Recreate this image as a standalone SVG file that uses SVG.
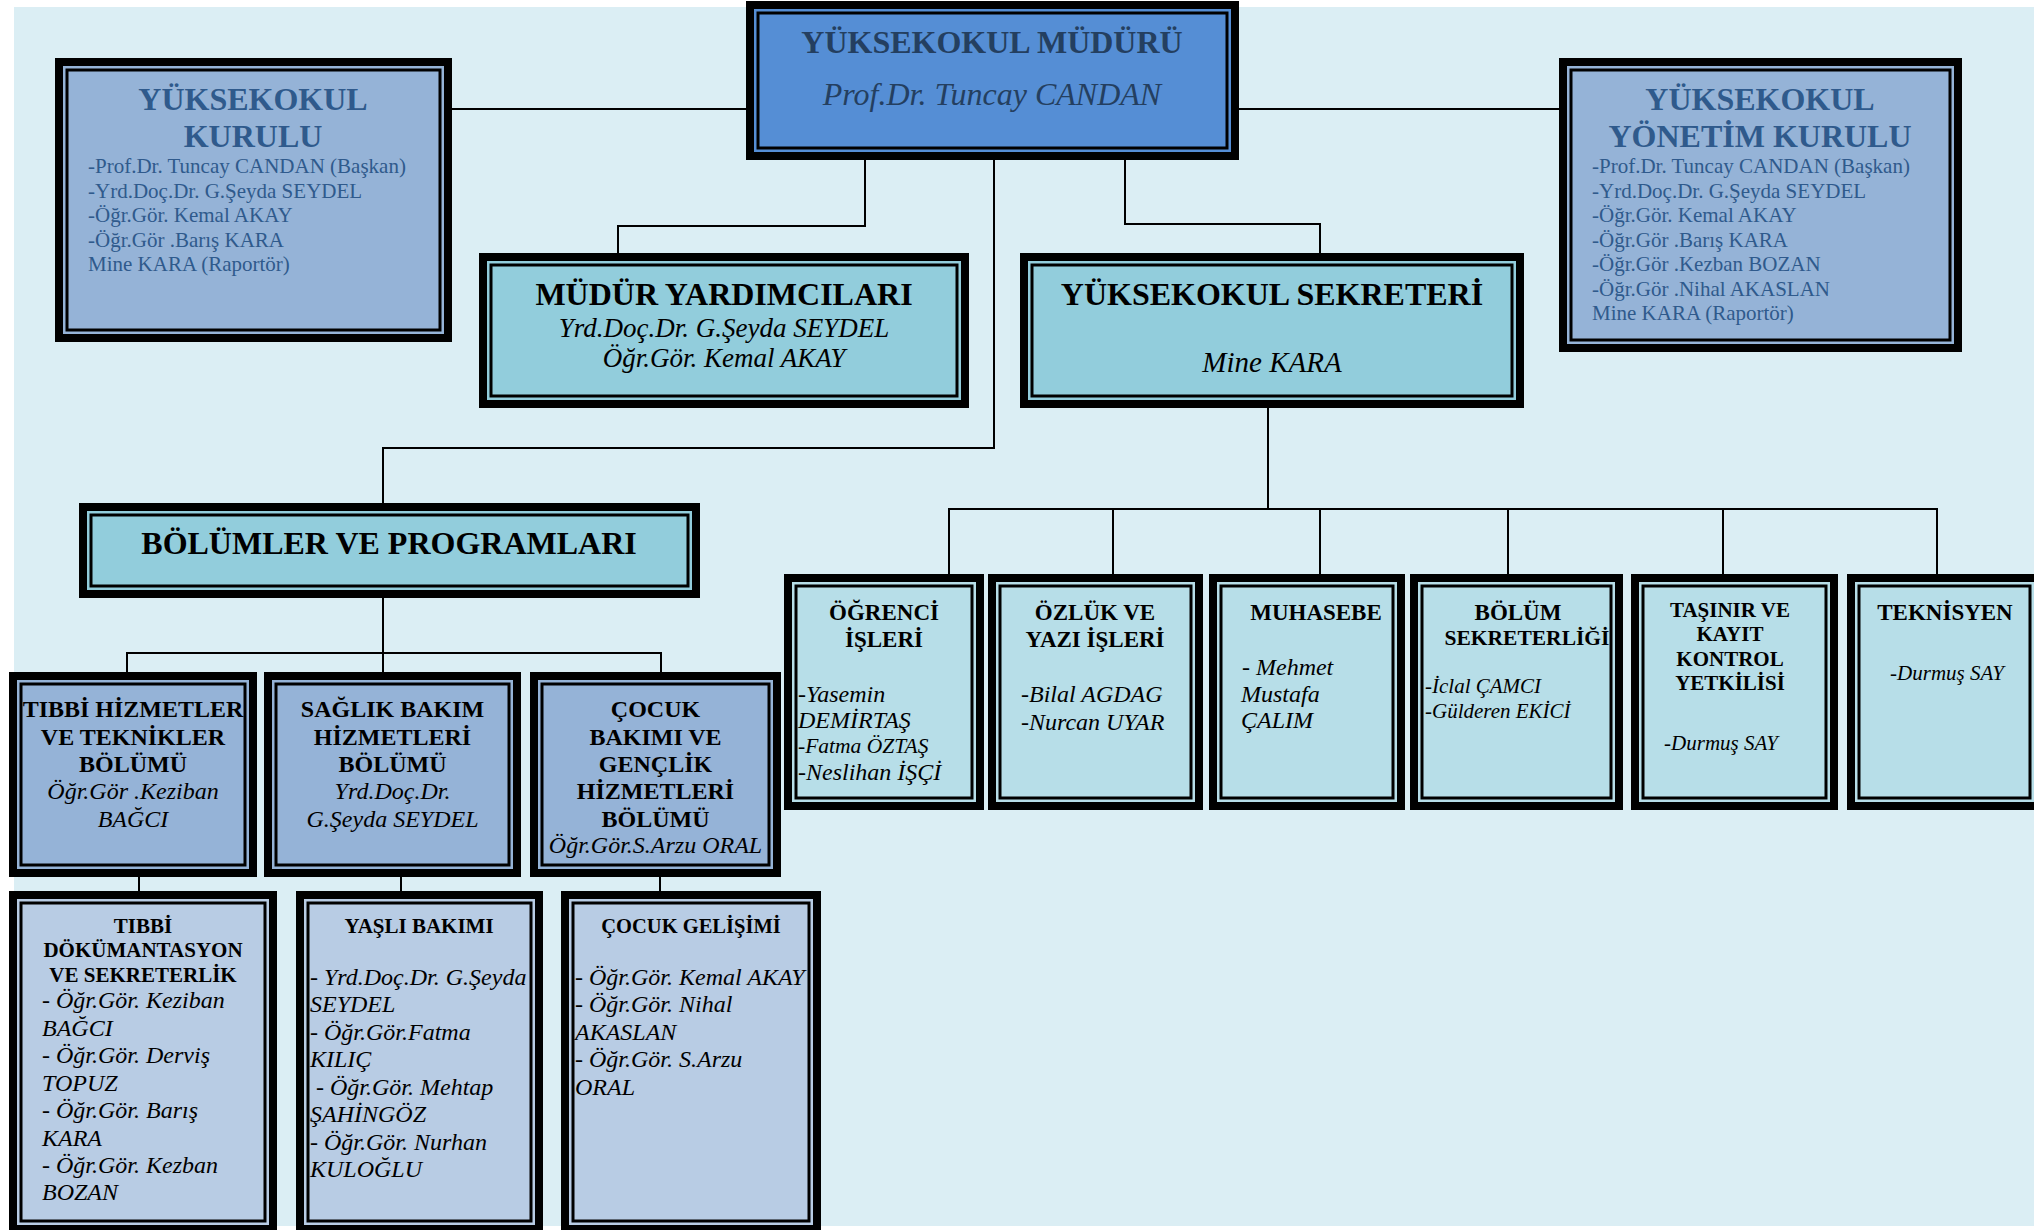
<svg xmlns="http://www.w3.org/2000/svg" width="2034" height="1230" viewBox="0 0 2034 1230">
<style>
text{font-family:"Liberation Serif","Times New Roman",serif}
.o{fill:#000}
.ln{fill:none;stroke:#000;stroke-width:3}
.c{stroke:#000;stroke-width:2;fill:none}
.b{font-weight:bold}
.i{font-style:italic}
.m{text-anchor:middle}
.k{fill:#000}
.kb{fill:#2F5A8C}
.md{fill:#243F60}
.f1{fill:#558ED5}
.f2{fill:#95B3D7}
.f3{fill:#92CDDC}
.f4{fill:#B8CCE4}
.f5{fill:#B7DEE8}
</style>
<rect x="14" y="7" width="2020" height="1219" fill="#DBEEF4"/>
<g id="connectors" class="c">
<path d="M452,109H746"/>
<path d="M1239,109H1559"/>
<path d="M865,160V226H618V253"/>
<path d="M994,160V448H383V503"/>
<path d="M1125,160V224H1320V253"/>
<path d="M383,598V672M127,672V653H661V672"/>
<path d="M139,877V891M401,877V891M660,877V891"/>
<path d="M1268,408V509M949,574V509H1937V574M1113,509V574M1320,509V574M1508,509V574M1723,509V574"/>
</g>
<g id="mudur">
<rect class="o" x="746" y="1" width="493" height="159"/>
<rect class="f1" x="754" y="9" width="477" height="143"/>
<rect class="f1 ln" x="758" y="13" width="469" height="135"/>
<text class="b m md" x="992" y="53" font-size="32">YÜKSEKOKUL MÜDÜRÜ</text>
<text class="i m md" x="992" y="105" font-size="32">Prof.Dr. Tuncay CANDAN</text>
</g>
<g id="kurulu">
<rect class="o" x="55" y="58" width="397" height="284"/>
<rect class="f2" x="63" y="66" width="381" height="268"/>
<rect class="f2 ln" x="67" y="70" width="373" height="260"/>
<text class="b m kb" x="253" y="110" font-size="32">YÜKSEKOKUL</text>
<text class="b m kb" x="253" y="147" font-size="32">KURULU</text>
<g class="kb" font-size="21">
<text x="88" y="173">-Prof.Dr. Tuncay CANDAN (Başkan)</text>
<text x="88" y="197.5">-Yrd.Doç.Dr. G.Şeyda SEYDEL</text>
<text x="88" y="222">-Öğr.Gör. Kemal AKAY</text>
<text x="88" y="246.5">-Öğr.Gör .Barış KARA</text>
<text x="88" y="271">Mine KARA (Raportör)</text>
</g>
</g>
<g id="yonetim">
<rect class="o" x="1559" y="58" width="403" height="294"/>
<rect class="f2" x="1567" y="66" width="387" height="278"/>
<rect class="f2 ln" x="1571" y="70" width="379" height="270"/>
<text class="b m kb" x="1760" y="110" font-size="32">YÜKSEKOKUL</text>
<text class="b m kb" x="1760" y="147" font-size="32">YÖNETİM KURULU</text>
<g class="kb" font-size="21">
<text x="1592" y="173">-Prof.Dr. Tuncay CANDAN (Başkan)</text>
<text x="1592" y="197.5">-Yrd.Doç.Dr. G.Şeyda SEYDEL</text>
<text x="1592" y="222">-Öğr.Gör. Kemal AKAY</text>
<text x="1592" y="246.5">-Öğr.Gör .Barış KARA</text>
<text x="1592" y="271">-Öğr.Gör .Kezban BOZAN</text>
<text x="1592" y="295.5">-Öğr.Gör .Nihal AKASLAN</text>
<text x="1592" y="320">Mine KARA (Raportör)</text>
</g>
</g>
<g id="yardimcilar">
<rect class="o" x="479" y="253" width="490" height="155"/>
<rect class="f3" x="487" y="261" width="474" height="139"/>
<rect class="f3 ln" x="491" y="265" width="466" height="131"/>
<text class="b m k" x="724" y="305" font-size="32">MÜDÜR YARDIMCILARI</text>
<text class="i m k" x="724" y="337" font-size="27">Yrd.Doç.Dr. G.Şeyda SEYDEL</text>
<text class="i m k" x="724" y="367" font-size="27">Öğr.Gör. Kemal AKAY</text>
</g>
<g id="sekreter">
<rect class="o" x="1020" y="253" width="504" height="155"/>
<rect class="f3" x="1028" y="261" width="488" height="139"/>
<rect class="f3 ln" x="1032" y="265" width="480" height="131"/>
<text class="b m k" x="1272" y="305" font-size="32">YÜKSEKOKUL SEKRETERİ</text>
<text class="i m k" x="1272" y="372" font-size="29">Mine KARA</text>
</g>
<g id="bolumler">
<rect class="o" x="79" y="503" width="621" height="95"/>
<rect class="f3" x="87" y="511" width="605" height="79"/>
<rect class="f3 ln" x="91" y="515" width="597" height="71"/>
<text class="b m k" x="389" y="554" font-size="32">BÖLÜMLER VE PROGRAMLARI</text>
</g>
<g id="tibbi-hizmetler">
<rect class="o" x="9" y="672" width="248" height="205"/>
<rect class="f2" x="17" y="680" width="232" height="189"/>
<rect class="f2 ln" x="21" y="684" width="224" height="181"/>
<g class="m k" font-size="24">
<text class="b" x="133" y="717">TIBBİ HİZMETLER</text>
<text class="b" x="133" y="744.5">VE TEKNİKLER</text>
<text class="b" x="133" y="772">BÖLÜMÜ</text>
<text class="i" x="133" y="799">Öğr.Gör .Keziban</text>
<text class="i" x="133" y="827">BAĞCI</text>
</g>
</g>
<g id="saglik-bakim">
<rect class="o" x="264" y="672" width="257" height="205"/>
<rect class="f2" x="272" y="680" width="241" height="189"/>
<rect class="f2 ln" x="276" y="684" width="233" height="181"/>
<g class="m k" font-size="24">
<text class="b" x="392.5" y="717">SAĞLIK BAKIM</text>
<text class="b" x="392.5" y="744.5">HİZMETLERİ</text>
<text class="b" x="392.5" y="772">BÖLÜMÜ</text>
<text class="i" x="392.5" y="799">Yrd.Doç.Dr.</text>
<text class="i" x="392.5" y="827">G.Şeyda SEYDEL</text>
</g>
</g>
<g id="cocuk-bakimi">
<rect class="o" x="530" y="672" width="251" height="205"/>
<rect class="f2" x="538" y="680" width="235" height="189"/>
<rect class="f2 ln" x="542" y="684" width="227" height="181"/>
<g class="m k" font-size="24">
<text class="b" x="655.5" y="717">ÇOCUK</text>
<text class="b" x="655.5" y="744.5">BAKIMI VE</text>
<text class="b" x="655.5" y="772">GENÇLİK</text>
<text class="b" x="655.5" y="799">HİZMETLERİ</text>
<text class="b" x="655.5" y="827">BÖLÜMÜ</text>
<text class="i" x="655.5" y="853">Öğr.Gör.S.Arzu ORAL</text>
</g>
</g>
<g id="tibbi-dokumantasyon">
<rect class="o" x="9" y="891" width="268" height="342"/>
<rect class="f4" x="17" y="899" width="252" height="326"/>
<rect class="f4 ln" x="21" y="903" width="244" height="318"/>
<g class="b m k" font-size="21">
<text x="143" y="933">TIBBİ</text>
<text x="143" y="957">DÖKÜMANTASYON</text>
<text x="143" y="982">VE SEKRETERLİK</text>
</g>
<g class="i k" font-size="24">
<text x="42" y="1008">- Öğr.Gör. Keziban</text>
<text x="42" y="1036">BAĞCI</text>
<text x="42" y="1063">- Öğr.Gör. Derviş</text>
<text x="42" y="1091">TOPUZ</text>
<text x="42" y="1118">- Öğr.Gör. Barış</text>
<text x="42" y="1146">KARA</text>
<text x="42" y="1173">- Öğr.Gör. Kezban</text>
<text x="42" y="1200">BOZAN</text>
</g>
</g>
<g id="yasli-bakimi">
<rect class="o" x="296" y="891" width="247" height="342"/>
<rect class="f4" x="304" y="899" width="231" height="326"/>
<rect class="f4 ln" x="308" y="903" width="223" height="318"/>
<text class="b m k" x="419" y="933" font-size="21">YAŞLI BAKIMI</text>
<g class="i k" font-size="24">
<text x="310" y="985">- Yrd.Doç.Dr. G.Şeyda</text>
<text x="310" y="1012">SEYDEL</text>
<text x="310" y="1040">- Öğr.Gör.Fatma</text>
<text x="310" y="1067">KILIÇ</text>
<text x="316" y="1095">- Öğr.Gör. Mehtap</text>
<text x="310" y="1122">ŞAHİNGÖZ</text>
<text x="310" y="1150">- Öğr.Gör. Nurhan</text>
<text x="310" y="1177">KULOĞLU</text>
</g>
</g>
<g id="cocuk-gelisimi">
<rect class="o" x="561" y="891" width="260" height="342"/>
<rect class="f4" x="569" y="899" width="244" height="326"/>
<rect class="f4 ln" x="573" y="903" width="236" height="318"/>
<text class="b m k" x="691" y="933" font-size="20.5">ÇOCUK GELİŞİMİ</text>
<g class="i k" font-size="24">
<text x="575" y="985">- Öğr.Gör. Kemal AKAY</text>
<text x="575" y="1012">- Öğr.Gör. Nihal</text>
<text x="575" y="1040">AKASLAN</text>
<text x="575" y="1067">- Öğr.Gör. S.Arzu</text>
<text x="575" y="1095">ORAL</text>
</g>
</g>
<g id="ogrenci-isleri">
<rect class="o" x="784" y="574" width="200" height="236"/>
<rect class="f5" x="792" y="582" width="184" height="220"/>
<rect class="f5 ln" x="796" y="586" width="176" height="212"/>
<text class="b m k" x="884" y="620" font-size="23">ÖĞRENCİ</text>
<text class="b m k" x="884" y="647" font-size="23">İŞLERİ</text>
<g class="i k">
<text x="798" y="702" font-size="24">-Yasemin</text>
<text x="798" y="728" font-size="24">DEMİRTAŞ</text>
<text x="798" y="753" font-size="21.5">-Fatma ÖZTAŞ</text>
<text x="798" y="780" font-size="24">-Neslihan İŞÇİ</text>
</g>
</g>
<g id="ozluk">
<rect class="o" x="988" y="574" width="215" height="236"/>
<rect class="f5" x="996" y="582" width="199" height="220"/>
<rect class="f5 ln" x="1000" y="586" width="191" height="212"/>
<text class="b m k" x="1095" y="620" font-size="23">ÖZLÜK VE</text>
<text class="b m k" x="1095" y="647" font-size="23">YAZI İŞLERİ</text>
<g class="i k" font-size="24">
<text x="1021" y="702">-Bilal AGDAG</text>
<text x="1021" y="730">-Nurcan UYAR</text>
</g>
</g>
<g id="muhasebe">
<rect class="o" x="1209" y="574" width="196" height="236"/>
<rect class="f5" x="1217" y="582" width="180" height="220"/>
<rect class="f5 ln" x="1221" y="586" width="172" height="212"/>
<text class="b m k" x="1316" y="620" font-size="23">MUHASEBE</text>
<g class="i k" font-size="24">
<text x="1242" y="675">- Mehmet</text>
<text x="1241" y="702">Mustafa</text>
<text x="1241" y="728">ÇALIM</text>
</g>
</g>
<g id="bolum-sekreterligi">
<rect class="o" x="1410" y="574" width="213" height="236"/>
<rect class="f5" x="1418" y="582" width="197" height="220"/>
<rect class="f5 ln" x="1422" y="586" width="189" height="212"/>
<text class="b m k" x="1518" y="620" font-size="23">BÖLÜM</text>
<text class="b m k" x="1527" y="645" font-size="21.5">SEKRETERLİĞİ</text>
<g class="i k" font-size="21">
<text x="1425" y="693">-İclal ÇAMCI</text>
<text x="1425" y="718">-Gülderen EKİCİ</text>
</g>
</g>
<g id="tasinir">
<rect class="o" x="1631" y="574" width="207" height="236"/>
<rect class="f5" x="1639" y="582" width="191" height="220"/>
<rect class="f5 ln" x="1643" y="586" width="183" height="212"/>
<g class="b m k" font-size="21">
<text x="1730" y="617">TAŞINIR VE</text>
<text x="1730" y="641">KAYIT</text>
<text x="1730" y="666">KONTROL</text>
<text x="1730" y="690">YETKİLİSİ</text>
</g>
<text class="i m k" x="1721" y="750" font-size="21">-Durmuş SAY</text>
</g>
<g id="teknisyen">
<rect class="o" x="1847" y="574" width="195" height="236"/>
<rect class="f5" x="1855" y="582" width="179" height="220"/>
<rect class="f5 ln" x="1859" y="586" width="171" height="212"/>
<text class="b m k" x="1945" y="620" font-size="23">TEKNİSYEN</text>
<text class="i m k" x="1947" y="680" font-size="21">-Durmuş SAY</text>
</g>
</svg>
